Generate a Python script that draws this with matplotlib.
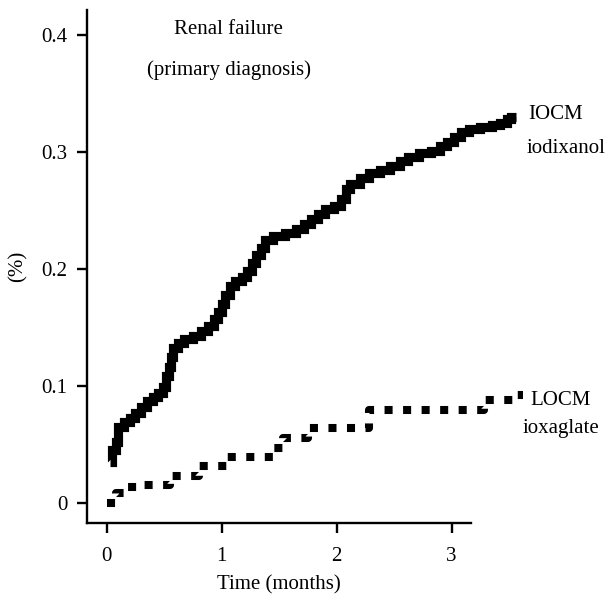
import numpy as np
import matplotlib
matplotlib.use('Agg')
import matplotlib.pyplot as plt

plt.rcParams['font.family'] = ['Liberation Serif', 'DejaVu Serif']

# IOCM iodixanol: cumulative incidence (%) vs time (months), step curve
iocm_t = [0.03, 0.05, 0.08, 0.10, 0.15, 0.20, 0.25, 0.30, 0.35, 0.40, 0.45, 0.49,
          0.52, 0.54, 0.56, 0.58, 0.62, 0.67, 0.75, 0.82, 0.88, 0.93, 0.97, 1.00,
          1.03, 1.07, 1.12, 1.18, 1.22, 1.26, 1.30, 1.34, 1.38, 1.45, 1.55, 1.65,
          1.72, 1.78, 1.84, 1.90, 1.98, 2.04, 2.08, 2.12, 2.20, 2.28, 2.38, 2.46,
          2.55, 2.62, 2.72, 2.82, 2.90, 2.96, 3.02, 3.08, 3.15, 3.25, 3.35, 3.42,
          3.48, 3.52, 3.56]
iocm_y = [0.035, 0.045, 0.052, 0.065, 0.069, 0.072, 0.077, 0.082, 0.087, 0.090, 0.094, 0.099,
          0.108, 0.116, 0.125, 0.132, 0.137, 0.140, 0.143, 0.147, 0.151, 0.157, 0.163, 0.170,
          0.178, 0.185, 0.190, 0.193, 0.198, 0.205, 0.212, 0.218, 0.225, 0.228, 0.231, 0.234,
          0.238, 0.243, 0.247, 0.251, 0.254, 0.260, 0.268, 0.273, 0.278, 0.282, 0.285, 0.288,
          0.292, 0.296, 0.299, 0.301, 0.305, 0.309, 0.313, 0.317, 0.320, 0.321, 0.323, 0.325,
          0.328, 0.330, 0.330]

# LOCM ioxaglate
locm_t = [0.0, 0.08, 0.18, 0.30, 0.55, 0.80, 1.05, 1.45, 1.53, 1.75, 2.28, 3.28, 3.55, 3.62]
locm_y = [0.0, 0.008, 0.013, 0.015, 0.023, 0.031, 0.039, 0.047, 0.055, 0.064, 0.079, 0.088, 0.092, 0.092]

xticks = [0, 1, 2, 3]
yticks = [0, 0.1, 0.2, 0.3, 0.4]
yticklabels = ['0', '0.1', '0.2', '0.3', '0.4']

fs = 15

fig = plt.figure(figsize=(6.06, 5.97), dpi=100)
ax = fig.add_axes([0.1436, 0.124, 0.6336, 0.859])

ax.plot(iocm_t, iocm_y, drawstyle='steps-post', color='black', lw=6.6,
        solid_capstyle='butt', solid_joinstyle='miter', clip_on=False)
ax.plot(locm_t, locm_y, drawstyle='steps-post', color='black', lw=5.8,
        linestyle=(0, (1, 1.3)), dash_capstyle='butt', clip_on=False)

ax.set_xlim(-0.17, 3.168)
ax.set_ylim(-0.0174, 0.4214)
ax.set_xticks(xticks)
ax.set_yticks(yticks)
ax.set_yticklabels(yticklabels)

for s in ['top', 'right']:
    ax.spines[s].set_visible(False)
for s in ['left', 'bottom']:
    ax.spines[s].set_linewidth(1.7)
ax.tick_params(width=1.7, length=7, labelsize=fs, pad=7)
ax.tick_params(axis='x', pad=10)

ax.set_xlabel('Time (months)', fontsize=fs, labelpad=7)
ax.set_ylabel('(%)', fontsize=fs, labelpad=10)

ax.text(1.06, 0.405, 'Renal failure', ha='center', va='center', fontsize=fs)
ax.text(1.06, 0.370, '(primary diagnosis)', ha='center', va='center', fontsize=fs)
ax.text(3.67, 0.332, 'IOCM', ha='left', va='center', fontsize=fs, clip_on=False)
ax.text(3.65, 0.303, 'iodixanol', ha='left', va='center', fontsize=fs, clip_on=False)
ax.text(3.68, 0.0875, 'LOCM', ha='left', va='center', fontsize=fs, clip_on=False)
ax.text(3.62, 0.0635, 'ioxaglate', ha='left', va='center', fontsize=fs, clip_on=False)

fig.savefig('out.png', dpi=100)
